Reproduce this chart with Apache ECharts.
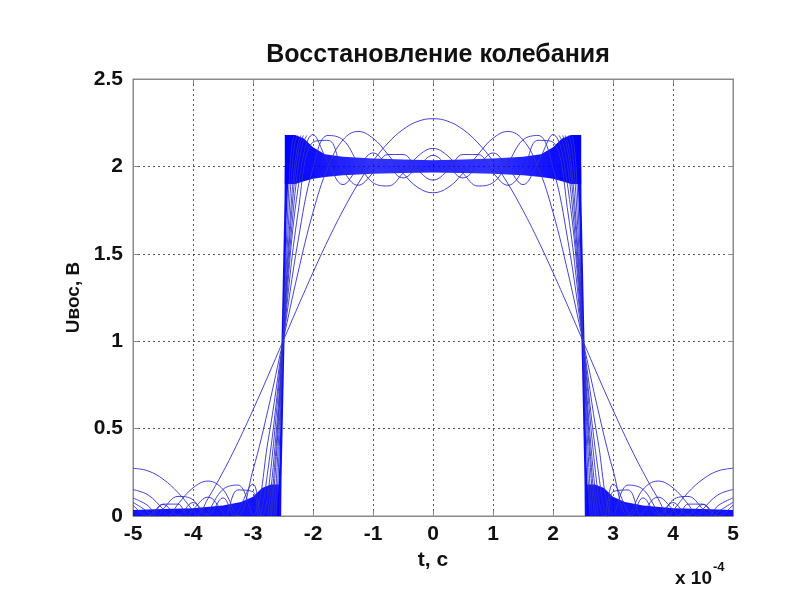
<!DOCTYPE html>
<html>
<head>
<meta charset="utf-8">
<script src="https://cdn.jsdelivr.net/npm/echarts@6/dist/echarts.min.js"></script>
<style>
html,body{margin:0;padding:0;background:#fff;}
#chart{width:800px;height:600px;}
</style>
</head>
<body>
<div id="chart"></div>
<script>
// ---- data (t in units of 1e-4 s, U in volts) ----
const titleText = 'Восстановление колебания';
const xTicks = [-5, -4, -3, -2, -1, 0, 1, 2, 3, 4, 5];
const yTicks = [0, 0.5, 1, 1.5, 2, 2.5];

const tGrid = [-5,-4.75,-4.5,-4.25,-4,-3.75,-3.5,-3.25,-3,-2.75,-2.5,-2.25,-2,-1.75,-1.5,-1.25,-1,-0.75,-0.5,-0.25,0,0.25,0.5,0.75,1,1.25,1.5,1.75,2,2.25,2.5,2.75,3,3.25,3.5,3.75,4,4.25,4.5,4.75,5];

// low-order reconstructions (1, 3, 5, 7, 9 harmonics)
const u1 = [0.273,0.258,0.211,0.134,0.030,0.100,0.252,0.422,0.607,0.801,1.000,1.199,1.393,1.578,1.748,1.900,2.030,2.134,2.211,2.258,2.273,2.258,2.211,2.134,2.030,1.900,1.748,1.578,1.393,1.199,1.000,0.801,0.607,0.422,0.252,0.100,0.030,0.134,0.211,0.258,0.273];
const z1 = [-3.94, 3.94];
const u3 = [0.151,0.121,0.039,0.068,0.161,0.200,0.152,0.003,0.263,0.608,1.000,1.392,1.737,1.997,2.152,2.200,2.161,2.068,1.961,1.879,1.849,1.879,1.961,2.068,2.161,2.200,2.152,1.997,1.737,1.392,1.000,0.608,0.263,0.003,0.152,0.200,0.161,0.068,0.039,0.121,0.151];
const z3 = [-4.41, 4.41];
const u5 = [0.103,0.059,0.039,0.112,0.093,0.020,0.152,0.177,0.009,0.428,1.000,1.572,1.991,2.177,2.152,2.020,1.907,1.888,1.961,2.059,2.103,2.059,1.961,1.888,1.907,2.020,2.152,2.177,1.991,1.572,1.000,0.428,0.009,0.177,0.152,0.020,0.093,0.112,0.039,0.059,0.103];
const z5 = [-4.60, -3.79, 3.79, 4.60];
const u7 = [0.078,0.023,0.068,0.068,0.037,0.108,0.021,0.149,0.139,0.266,1.000,1.734,2.139,2.149,1.979,1.892,1.963,2.068,2.068,1.977,1.922,1.977,2.068,2.068,1.963,1.892,1.979,2.149,2.139,1.734,1.000,0.266,0.139,0.149,0.021,0.108,0.037,0.068,0.068,0.023,0.078];
const z7 = [-4.69, -4.09, -3.47, -2.91, 2.91, 3.47, 4.09, 4.69];
const u9 = [0.063,0.001,0.066,0.003,0.077,0.008,0.104,0.023,0.182,0.126,1.000,1.874,2.182,2.023,1.896,1.992,2.077,2.003,1.934,1.999,2.063,1.999,1.934,2.003,2.077,1.992,1.896,2.023,2.182,1.874,1.000,0.126,0.182,0.023,0.104,0.008,0.077,0.003,0.066,0.001,0.063];
const z9 = [-3.30, -2.85, 2.85, 3.30];

// steep edges of higher-order reconstructions
const edgeY = [0, 0.157, 0.398, 0.686, 1, 1.314, 1.602, 1.843, 2.022, 2.132, 2.177];
const edgeL11 = [-2.756,-2.699,-2.633,-2.566,-2.5,-2.434,-2.367,-2.301,-2.235,-2.168,-2.102];
const edgeR11 = [2.756,2.699,2.633,2.566,2.5,2.434,2.367,2.301,2.235,2.168,2.102];
const edgeL13 = [-2.719,-2.671,-2.614,-2.557,-2.5,-2.443,-2.386,-2.329,-2.273,-2.216,-2.159];
const edgeR13 = [2.719,2.671,2.614,2.557,2.5,2.443,2.386,2.329,2.273,2.216,2.159];
const edgeL15 = [-2.692,-2.649,-2.600,-2.550,-2.5,-2.450,-2.400,-2.351,-2.301,-2.251,-2.202];
const edgeR15 = [2.692,2.649,2.600,2.550,2.5,2.450,2.400,2.351,2.301,2.251,2.202];
const edgeL19 = [-2.654,-2.619,-2.580,-2.540,-2.5,-2.460,-2.420,-2.381,-2.341,-2.301,-2.261];
const edgeR19 = [2.654,2.619,2.580,2.540,2.5,2.460,2.420,2.381,2.341,2.301,2.261];
const edgeL25 = [-2.618,-2.592,-2.561,-2.531,-2.5,-2.469,-2.439,-2.408,-2.378,-2.347,-2.316];
const edgeR25 = [2.618,2.592,2.561,2.531,2.5,2.469,2.439,2.408,2.378,2.347,2.316];

// dense bundle of many high-order reconstructions (envelopes)
const topX  = [-2.47,-2.3,-2.15,-2.0,-1.8,-1.5,-1.0,-0.5,0,0.5,1.0,1.5,1.8,2.0,2.15,2.3,2.47];
const topHi = [2.18,2.18,2.16,2.11,2.07,2.055,2.045,2.04,2.035,2.04,2.045,2.055,2.07,2.11,2.16,2.18,2.18];
const topLo = [1.90,1.90,1.915,1.93,1.94,1.95,1.958,1.962,1.965,1.962,1.958,1.95,1.94,1.93,1.915,1.90,1.90];
const botLX = [-5,-4.5,-4,-3.5,-3.2,-3.0,-2.85,-2.7,-2.57];
const botRX = [5,4.5,4,3.5,3.2,3.0,2.85,2.7,2.57];
const botHi = [0.035,0.04,0.045,0.06,0.08,0.11,0.16,0.18,0.18];
const stripLX = [-2.60,-2.56,-2.54,-2.525,-2.50,-2.475,-2.47,-2.40,-2.44,-2.46,-2.475,-2.50,-2.525,-2.53];
const stripRX = [2.60,2.56,2.54,2.525,2.50,2.475,2.47,2.40,2.44,2.46,2.475,2.50,2.525,2.53];
const stripY  = [0,0.3,0.6,1.0,1.4,1.8,2.0,2.0,1.7,1.4,1.0,0.6,0.2,0];

// ---- build ----
const LINE = '#3030cc';
function curve(ys, zs) {
  const pts = tGrid.map((t, i) => [t, ys[i]]);
  zs.forEach(z => pts.push([z, 0]));
  pts.sort((a, b) => a[0] - b[0]);
  return pts;
}
function lineSeries(data, smooth) {
  return { type: 'line', data: data, symbol: 'none', smooth: smooth, clip: true, z: 4,
    lineStyle: { color: LINE, width: 0.9 }, animation: false, silent: true };
}
function polySeries(poly, fill, z) {
  return { type: 'custom', data: [[0, 0]], clip: true, z: z, silent: true, animation: false,
    renderItem: function (params, api) {
      return { type: 'polygon', shape: { points: poly.map(p => api.coord(p)) }, style: { fill: fill } };
    } };
}
const series = [];
const topPoly = topX.map((x, i) => [x, topHi[i]]).concat(topX.map((x, i) => [x, topLo[i]]).reverse());
const bandGrad = new echarts.graphic.LinearGradient(0, 0, 1, 0, [
  { offset: 0, color: 'rgba(0,0,255,1)' }, { offset: 0.08, color: 'rgba(0,0,255,0.95)' },
  { offset: 0.3, color: 'rgba(0,0,255,0.8)' }, { offset: 0.5, color: 'rgba(0,0,255,0.85)' },
  { offset: 0.7, color: 'rgba(0,0,255,0.8)' }, { offset: 0.92, color: 'rgba(0,0,255,0.95)' },
  { offset: 1, color: 'rgba(0,0,255,1)' }]);
series.push(polySeries(topPoly, bandGrad, 2));
[botLX, botRX].forEach(bx => {
  const poly = bx.map((x, i) => [x, botHi[i]]).concat([[bx[bx.length - 1], 0], [bx[0], 0]]);
  series.push(polySeries(poly, 'rgba(0,0,255,0.92)', 2));
});
[stripLX, stripRX].forEach(sx => {
  series.push(polySeries(sx.map((x, i) => [x, stripY[i]]), 'rgba(0,0,255,0.95)', 2));
});
[edgeL11, edgeR11, edgeL13, edgeR13, edgeL15, edgeR15, edgeL19, edgeR19, edgeL25, edgeR25].forEach(ex => {
  series.push(lineSeries(ex.map((x, i) => [x, edgeY[i]]), 0.3));
});
[[u1, z1], [u3, z3], [u5, z5], [u7, z7], [u9, z9]].forEach(c => {
  series.push(lineSeries(curve(c[0], c[1]), 0.4));
});

const FONT = '"Liberation Sans", Arial, sans-serif';
const AX = '#8a8a8a';
const gridStyle = { show: true, lineStyle: { color: '#222', width: 1, type: [2, 3], opacity: 0.75 } };
const chart = echarts.init(document.getElementById('chart'), null, { renderer: 'canvas' });
chart.setOption({
  backgroundColor: '#fff',
  animation: false,
  title: { text: titleText, left: 433, top: 38, textAlign: 'center',
    textStyle: { fontFamily: FONT, fontWeight: 'bold', fontSize: 25, color: '#111' } },
  grid: { left: 133, top: 79, width: 600, height: 437, show: true, borderColor: AX, borderWidth: 1, backgroundColor: '#fff' },
  xAxis: [{
    type: 'value', min: xTicks[0], max: xTicks[xTicks.length - 1], interval: 1,
    name: 't, c', nameLocation: 'middle', nameGap: 32,
    nameTextStyle: { fontFamily: FONT, fontWeight: 'bold', fontSize: 21, color: '#111' },
    axisLine: { show: true, onZero: false, lineStyle: { color: AX } },
    axisTick: { show: true, inside: true, length: 5, lineStyle: { color: AX } },
    axisLabel: { margin: 8, fontFamily: FONT, fontWeight: 'bold', fontSize: 21, color: '#111',
      formatter: v => String(v) },
    splitLine: gridStyle
  }, {
    type: 'value', position: 'top', min: xTicks[0], max: xTicks[xTicks.length - 1], interval: 1,
    axisLine: { show: true, onZero: false, lineStyle: { color: AX } },
    axisTick: { show: true, inside: true, length: 5, lineStyle: { color: AX } },
    axisLabel: { show: false }, splitLine: { show: false }
  }],
  yAxis: [{
    type: 'value', min: yTicks[0], max: yTicks[yTicks.length - 1], interval: 0.5,
    name: 'Uвос, В', nameLocation: 'middle', nameGap: 47, nameRotate: 90,
    nameTextStyle: { fontFamily: FONT, fontWeight: 'bold', fontSize: 19, color: '#111' },
    axisLine: { show: true, onZero: false, lineStyle: { color: AX } },
    axisTick: { show: true, inside: true, length: 5, lineStyle: { color: AX } },
    axisLabel: { margin: 10, fontFamily: FONT, fontWeight: 'bold', fontSize: 21, color: '#111',
      formatter: v => String(v) },
    splitLine: gridStyle
  }, {
    type: 'value', position: 'right', min: yTicks[0], max: yTicks[yTicks.length - 1], interval: 0.5,
    axisLine: { show: true, onZero: false, lineStyle: { color: AX } },
    axisTick: { show: true, inside: true, length: 5, lineStyle: { color: AX } },
    axisLabel: { show: false }, splitLine: { show: false }
  }],
  graphic: [
    { type: 'text', left: 675, top: 569, style: { text: 'x 10', font: 'bold 19px "Liberation Sans", Arial, sans-serif', fill: '#111' } },
    { type: 'text', left: 713, top: 561, style: { text: '-4', font: 'bold 13px "Liberation Sans", Arial, sans-serif', fill: '#111' } }
  ],
  series: series
});
</script>
</body>
</html>
